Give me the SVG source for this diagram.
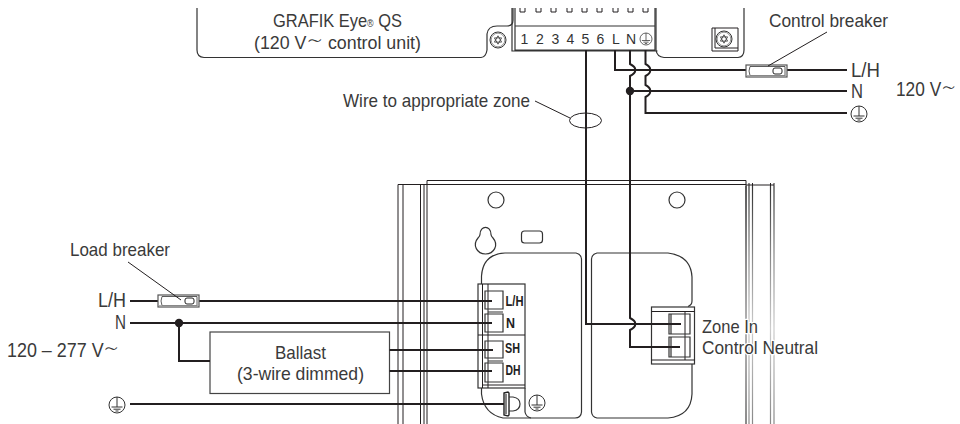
<svg xmlns="http://www.w3.org/2000/svg" xmlns:xlink="http://www.w3.org/1999/xlink" width="960" height="424" viewBox="0 0 960 424">
<style>
text{font-family:"Liberation Sans",Arial,sans-serif;font-size:20px;fill:#3a3a3a}
.t{font-size:18.500px}
.n{font-size:14px;fill:#333}
.s{font-size:15px;fill:#222;font-weight:bold}
.h{paint-order:stroke;stroke:#fff;stroke-width:2.500px;stroke-linejoin:round}
.td{font-family:"DejaVu Sans",sans-serif;font-size:27px;font-weight:200}
.l{fill:none;stroke:#231f20;stroke-width:1}
.m{fill:none;stroke:#333;stroke-width:1.200}
.w{fill:none;stroke:#231f20;stroke-width:2}
.lead{fill:none;stroke:#231f20;stroke-width:1}
.r{fill:none;stroke:url(#fade);stroke-width:1.200}
</style>
<defs>
<linearGradient id="fade" gradientUnits="userSpaceOnUse" x1="0" y1="185" x2="0" y2="424">
<stop offset="0" stop-color="#333"/><stop offset="0.3" stop-color="#888"/><stop offset="0.6" stop-color="#ccc"/><stop offset="0.8" stop-color="#aaa"/><stop offset="1" stop-color="#888"/>
</linearGradient>
<g id="gnd"><circle r="8" fill="#fff" stroke="#333" stroke-width="1"/><path d="M0-8V2M-5.500 2H5.500M-3.500 4.200H3.500M-1.500 6H1.500" fill="none" stroke="#333" stroke-width="1"/></g>
<g id="screw"><circle r="8" fill="#fff" stroke="#333" stroke-width="1"/><circle r="6.800" fill="none" stroke="#333" stroke-width=".5"/><path d="M0-4.200L3.600 2.100H-3.600ZM0 4.200L3.600-2.100H-3.600Z" fill="none" stroke="#333" stroke-width=".8"/></g>
<g id="brk"><rect x="0" y="0" width="41" height="12" fill="#fff" stroke="#555" stroke-width="1.200"/><path d="M4 1.500H39V10.500H4Q2 6 4 1.500Z" fill="#fff" stroke="#333" stroke-width=".8"/><rect x="27" y="3" width="9" height="6" rx="2" fill="#fff" stroke="#222" stroke-width="1"/><path d="M1 11H40" stroke="#999" stroke-width="1.500"/></g>
</defs>

<g id="control-unit">
<path class="m" d="M197 8V50Q197 57 204 57.500H481Q486 57 487 50V34Q488 26 497 26H507Q513 26 513 20V8"/>
<path class="m" d="M656 8V50Q657 57 664 57.500H738Q744 57 744 50V8"/>
<path class="m" d="M515 8V50H655V8M512 8V51H657.500M515 26H655"/>
<path class="l" d="M712 28H738V51H712ZM715 28V48H738"/>
<path class="l" d="M520 8V12H525V8M536 8V12H541V8M551 8V12H556V8M567 8V12H572V8M582 8V12H587V8M597 8V12H602V8M613 8V12H618V8M628 8V12H633V8M643 8V12H648V8"/>
<use xlink:href="#screw" href="#screw" x="498" y="40"/>
<use xlink:href="#screw" href="#screw" x="724" y="39"/>
<text class="t" x="273" y="27" textLength="129" lengthAdjust="spacingAndGlyphs">GRAFIK Eye<tspan font-size="10">®</tspan> QS</text>
<text class="t" x="254" y="49" textLength="167" lengthAdjust="spacingAndGlyphs">(120 V<tspan class="td" dy="1">∼</tspan><tspan dy="-1"> control unit)</tspan></text>
<text class="n" x="520.500" y="44">1</text><text class="n" x="536" y="44">2</text><text class="n" x="551.500" y="44">3</text><text class="n" x="566.500" y="44">4</text><text class="n" x="581.500" y="44">5</text><text class="n" x="596.500" y="44">6</text><text class="n" x="612" y="44">L</text><text class="n" x="626" y="44">N</text>
<use xlink:href="#gnd" href="#gnd" transform="translate(646 39) scale(.75)"/>
</g>

<g id="plate">
<path class="l" d="M427 185V180.500H746V424M398 424V184.500H427M403 184.500V424M420.500 184.500V424M424 184.500V424M427 184.500V424M427 184.500H746"/>
<path class="r" d="M746 186V424M749 186V424M752.500 186V424M770.500 186V424M774 186V424"/>
<path class="l" d="M746 185H774M749 183V186M752.500 183V186M770.500 183V186M774 183V186"/>
<circle class="m" cx="496" cy="200" r="8"/>
<circle class="m" cx="677" cy="200" r="8"/>
<path class="m" d="M480 234.500C480 225 491 225 491 234.500C491 236 492 237 493 238C499 245 494 254 485.500 254C477 254 472 245 478 238C479 237 480 236 480 234.500Z"/>
<rect class="m" x="521.500" y="231" width="21" height="12" rx="3"/>
<path class="m" d="M481.500 284V276Q483 254 505 253H576Q581 254 581.500 259V412Q581 418 575 418H503Q484 414 481.500 394V388"/>
<path class="m" d="M525 388V412Q526 417 531 418"/>
<path class="m" d="M688 306.500Q692 305 692 301V277Q691 256 668 253H597Q592 254 591.500 259V412Q592 417 597 418H668Q691 416 692 394V364"/>
</g>

<g id="terminal-left">
<rect x="478" y="284" width="47" height="104" fill="#fff" stroke="#333" stroke-width="1.200"/>
<path class="l" d="M478 335H525M482.500 284V388M488 284V388M482.500 385H525"/>
<path class="m" d="M485 291H503V309H485ZM485 314H503V332H485ZM485 341H503V358H485ZM485 363H503V382H485ZM488 312H503M488 361H503"/>
<text class="s" x="505.500" y="306" textLength="18" lengthAdjust="spacingAndGlyphs">L/H</text>
<text class="s" x="506" y="328" textLength="9" lengthAdjust="spacingAndGlyphs">N</text>
<text class="s" x="505" y="353" textLength="15" lengthAdjust="spacingAndGlyphs">SH</text>
<text class="s" x="505.500" y="375" textLength="15" lengthAdjust="spacingAndGlyphs">DH</text>
<path d="M504 393L508 392L509 393V415L508 416L504 415Z" fill="#fff" stroke="#222" stroke-width="1.400"/>
<path class="m" d="M509 397H513Q520 398 520 404Q520 410 513 411H509M506 394V414"/>
<use xlink:href="#gnd" href="#gnd" x="537" y="403"/>
</g>

<g id="terminal-right">
<rect x="651.500" y="307" width="43" height="57" fill="#fff" stroke="#333" stroke-width="1.200"/>
<path class="l" d="M651.500 311.500H694.500M651.500 360H694.500M685 311.500V360"/>
<path class="m" d="M669 314H690V334H669ZM669 337H690V357H669ZM671 314V334M671 337V357"/>
</g>

<g id="ballast">
<rect x="210" y="332" width="179.500" height="61.500" fill="#fff" stroke="#444" stroke-width="1.200"/>
<text class="t" x="275" y="359" textLength="51" lengthAdjust="spacingAndGlyphs">Ballast</text>
<text class="t" x="237" y="380" textLength="127" lengthAdjust="spacingAndGlyphs">(3-wire dimmed)</text>
</g>

<g id="connectors">
<path class="w" d="M586 50V324H681"/>
<path class="w" d="M615 50V70H746M787 70H847"/>
<path class="w" d="M630 50V64Q636 67 635 70Q636 73 630 76V318Q636 321 635 324Q636 327 630 330V347H680"/>
<path class="w" d="M645.500 50V64Q651 67 650 70Q651 73 645.500 76V85Q651 88 650 91Q651 94 645.500 97V113H847"/>
<path class="w" d="M630 91H847"/>
<circle cx="630" cy="91" r="4.200" fill="#231f20"/>
<path class="w" d="M130 301H158M199 301H492M130 323H492M179 323V361H210M389.500 350H493M389.500 371H492M130 404H504"/>
<circle cx="179" cy="323" r="4.200" fill="#231f20"/>
<path class="lead" d="M535 101L570 118"/>
<ellipse class="l" cx="585.500" cy="120.500" rx="16" ry="7.500"/>
</g>

<g id="control-breaker"><use xlink:href="#brk" href="#brk" x="746" y="65"/><path class="lead" d="M827 32L768 66"/></g>
<g id="load-breaker"><use xlink:href="#brk" href="#brk" x="158" y="295"/><path class="lead" d="M128 262L181 300"/></g>

<g id="labels">
<text class="t" x="343" y="107" textLength="187" lengthAdjust="spacingAndGlyphs">Wire to appropriate zone</text>
<text class="t" x="769" y="27" textLength="119" lengthAdjust="spacingAndGlyphs">Control breaker</text>
<text x="851" y="77" textLength="29" lengthAdjust="spacingAndGlyphs">L/H</text>
<text x="851" y="98" textLength="12" lengthAdjust="spacingAndGlyphs">N</text>
<use xlink:href="#gnd" href="#gnd" x="859" y="114"/>
<text x="896" y="96" textLength="60" lengthAdjust="spacingAndGlyphs">120 V<tspan class="td" dy="1">∼</tspan></text>
<text class="t" x="70" y="256" textLength="100" lengthAdjust="spacingAndGlyphs">Load breaker</text>
<text x="98" y="307" textLength="28" lengthAdjust="spacingAndGlyphs">L/H</text>
<text x="115" y="329" textLength="11" lengthAdjust="spacingAndGlyphs">N</text>
<text x="7" y="357" textLength="112" lengthAdjust="spacingAndGlyphs">120 – 277 V<tspan class="td" dy="1">∼</tspan></text>
<use xlink:href="#gnd" href="#gnd" x="117" y="405"/>
<text class="t h" x="702" y="333" textLength="56" lengthAdjust="spacingAndGlyphs">Zone In</text>
<text class="t h" x="702" y="354" textLength="116" lengthAdjust="spacingAndGlyphs">Control Neutral</text>
</g>
</svg>
